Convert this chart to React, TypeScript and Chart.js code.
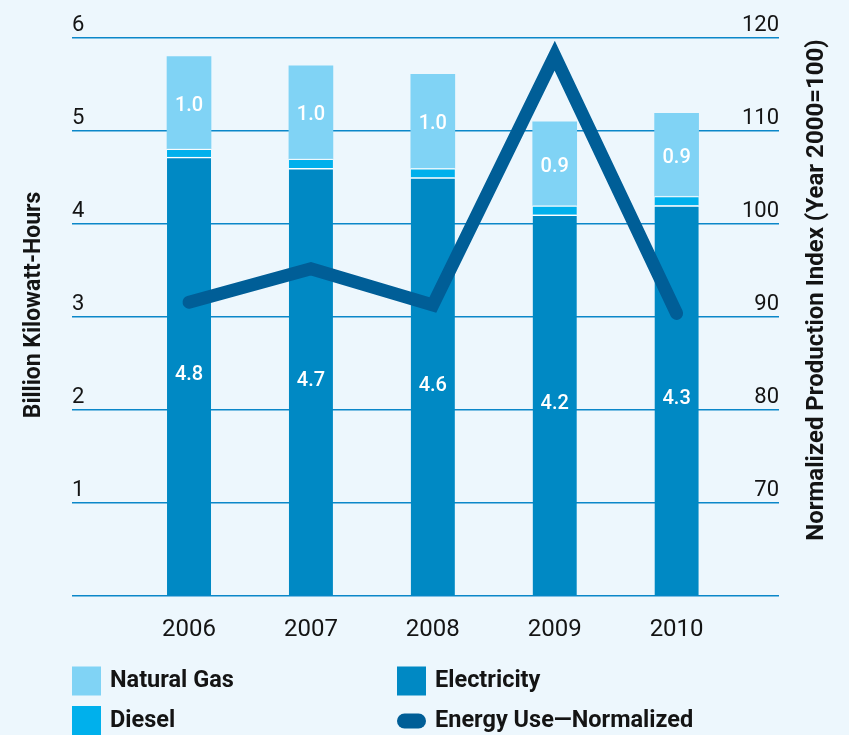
import React, { useEffect, useRef } from 'react';
import { Chart, registerables } from 'chart.js';

Chart.register(...registerables);

// ---- data ----
const years = [2006, 2007, 2008, 2009, 2010];
const electricity = [4.72, 4.6, 4.5, 4.1, 4.2];
const diesel = [0.09, 0.1, 0.1, 0.1, 0.1];
const naturalGas = [0.99, 1.0, 1.01, 0.9, 0.89];
const electricityLabels = ['4.8', '4.7', '4.6', '4.2', '4.3'];
const naturalGasLabels = ['1.0', '1.0', '1.0', '0.9', '0.9'];
const energyUseNormalized = [91.6, 95.2, 91.3, 118.1, 90.4];
const leftTickValues = [1, 2, 3, 4, 5, 6];
const rightTickValues = [70, 80, 90, 100, 110, 120];

const leftTitle = 'Billion Kilowatt-Hours';
const rightTitle = 'Normalized Production Index (Year 2000=100)';
const legendNames = ['Natural Gas', 'Diesel', 'Electricity', 'Energy Use\u2014Normalized'];

// ---- style ----
const BG = '#edf7fd';
const C_GAS = '#80d3f5';
const C_DIESEL = '#00b0ec';
const C_ELEC = '#0089c4';
const C_LINE = '#005e97';
const C_GRID = '#0b87c9';
const C_TEXT = '#141414';
const FONT = 'Roboto, "Noto Sans", sans-serif';

const toPts = (vals: number[]) => vals.map((v, i) => ({ x: years[i], y: v }));

const overlayPlugin = {
  id: 'overlay',
  afterDatasetsDraw(chart: any) {
    const ctx = chart.ctx;
    ctx.save();
    ctx.fillStyle = '#ffffff';
    ctx.font = `500 20px ${FONT}`;
    ctx.textAlign = 'center';
    ctx.textBaseline = 'middle';
    const sets: [number, string[], number][] = [
      [0, electricityLabels, -1],
      [2, naturalGasLabels, 3],
    ];
    sets.forEach(([di, labels, dy]) => {
      const meta = chart.getDatasetMeta(di);
      meta.data.forEach((el: any, i: number) => {
        const p = el.getProps(['x', 'y', 'base'], true);
        ctx.fillText(labels[i], p.x, (p.y + p.base) / 2 + dy);
      });
    });
    ctx.restore();
  },
  afterDraw(chart: any) {
    const ctx = chart.ctx;
    const ca = chart.chartArea;
    ctx.save();
    ctx.fillStyle = C_TEXT;
    ctx.textAlign = 'center';
    ctx.textBaseline = 'middle';
    // axis titles
    ctx.font = `bold 23px ${FONT}`;
    ctx.save();
    ctx.translate(ca.left - 38, 305);
    ctx.rotate(-Math.PI / 2);
    ctx.fillText(leftTitle, 0, 0);
    ctx.restore();
    ctx.font = `bold 24px ${FONT}`;
    ctx.save();
    ctx.translate(ca.right + 38, 290);
    ctx.rotate(-Math.PI / 2);
    ctx.fillText(rightTitle, 0, 0);
    ctx.restore();

    // legend
    const col1 = ca.left;
    const col2 = ca.left + 325;
    const row1 = 681;
    const row2 = 721;
    const sw = 29;
    ctx.font = `bold 23.5px ${FONT}`;
    ctx.textAlign = 'left';
    ctx.fillStyle = C_GAS;
    ctx.fillRect(col1, row1 - 14.5, sw, sw);
    ctx.fillStyle = C_DIESEL;
    ctx.fillRect(col1, row2 - 15, sw, sw + 4);
    ctx.fillStyle = C_ELEC;
    ctx.fillRect(col2, row1 - 14.5, sw, sw);
    ctx.fillStyle = C_LINE;
    ctx.beginPath();
    ctx.roundRect(col2, row2 - 7.5, sw, 15, 7.5);
    ctx.fill();
    ctx.fillStyle = C_TEXT;
    ctx.fillText(legendNames[0], col1 + 38, row1);
    ctx.fillText(legendNames[1], col1 + 38, row2);
    ctx.fillText(legendNames[2], col2 + 38, row1);
    ctx.fillText(legendNames[3], col2 + 38, row2);
    ctx.restore();
  },
};

const zeroPad = (s: any) => {
  s.paddingTop = 0;
  s.paddingBottom = 0;
  s.paddingLeft = 0;
  s.paddingRight = 0;
};

export default function App() {
  const ref = useRef<HTMLCanvasElement | null>(null);
  useEffect(() => {
    if (!ref.current) return;
    const barCommon = {
      type: 'bar' as const,
      barThickness: 44,
      stack: 'energy',
      yAxisID: 'y',
      order: 1,
      borderSkipped: 'start' as const,
    };
    const chart = new Chart(ref.current, {
      type: 'bar',
      data: {
        datasets: [
          {
            ...barCommon,
            label: legendNames[2],
            data: toPts(electricity),
            backgroundColor: C_ELEC,
            borderColor: '#ffffff',
            borderWidth: { top: 1.5, left: 0, right: 0, bottom: 0 },
          },
          {
            ...barCommon,
            label: legendNames[1],
            data: toPts(diesel),
            backgroundColor: C_DIESEL,
            borderColor: 'rgba(255,255,255,0.6)',
            borderWidth: { top: 1.5, left: 0, right: 0, bottom: 0 },
          },
          {
            ...barCommon,
            label: legendNames[0],
            data: toPts(naturalGas),
            backgroundColor: C_GAS,
            borderWidth: 0,
          },
          {
            type: 'line' as const,
            label: legendNames[3],
            data: toPts(energyUseNormalized),
            yAxisID: 'y2',
            order: 0,
            borderColor: C_LINE,
            borderWidth: 13,
            borderCapStyle: 'round',
            borderJoinStyle: 'miter',
            pointRadius: 0,
            pointHoverRadius: 0,
            tension: 0,
            fill: false,
          } as any,
        ],
      },
      options: {
        animation: false,
        responsive: false,
        events: [],
        layout: { padding: { left: 72, right: 70, top: 38, bottom: 72 } },
        plugins: { legend: { display: false }, tooltip: { enabled: false } },
        scales: {
          x: {
            type: 'linear',
            offset: false,
            min: 2005.04,
            max: 2010.84,
            stacked: true,
            grid: { display: false, drawTicks: false, offset: false },
            border: { display: false },
            afterBuildTicks: (s: any) => {
              s.ticks = years.map((v) => ({ value: v }));
            },
            afterFit: zeroPad,
            ticks: {
              padding: 19,
              color: C_TEXT,
              font: { family: FONT, size: 24 },
              maxRotation: 0,
              autoSkip: false,
              callback: (v: any) => String(v),
            },
          },
          y: {
            position: 'left',
            min: 0,
            max: 6,
            stacked: true,
            grid: { color: C_GRID, lineWidth: 1.5, drawTicks: false },
            border: { display: false },
            afterBuildTicks: (s: any) => {
              s.ticks = [0, ...leftTickValues].map((v) => ({ value: v }));
            },
            afterFit: zeroPad,
            ticks: {
              mirror: true,
              padding: 0,
              labelOffset: -13,
              color: C_TEXT,
              font: { family: FONT, size: 22 },
              callback: (v: any) => (leftTickValues.includes(v) ? String(v) : ''),
            },
          },
          y2: {
            position: 'right',
            min: 60,
            max: 120,
            grid: { display: false, drawTicks: false },
            border: { display: false },
            afterBuildTicks: (s: any) => {
              s.ticks = [60, ...rightTickValues].map((v) => ({ value: v }));
            },
            afterFit: zeroPad,
            ticks: {
              mirror: true,
              padding: 0,
              labelOffset: -13,
              color: C_TEXT,
              font: { family: FONT, size: 22 },
              callback: (v: any) => (rightTickValues.includes(v) ? String(v) : ''),
            },
          },
        },
      },
      plugins: [overlayPlugin],
    });
    return () => chart.destroy();
  }, []);

  return (
    <div
      style={{
        position: 'absolute',
        left: 0,
        top: 0,
        width: 849,
        height: 735,
        background: BG,
        overflow: 'hidden',
      }}
    >
      <canvas ref={ref} width={849} height={735} style={{ display: 'block', width: 849, height: 735 }} />
    </div>
  );
}
